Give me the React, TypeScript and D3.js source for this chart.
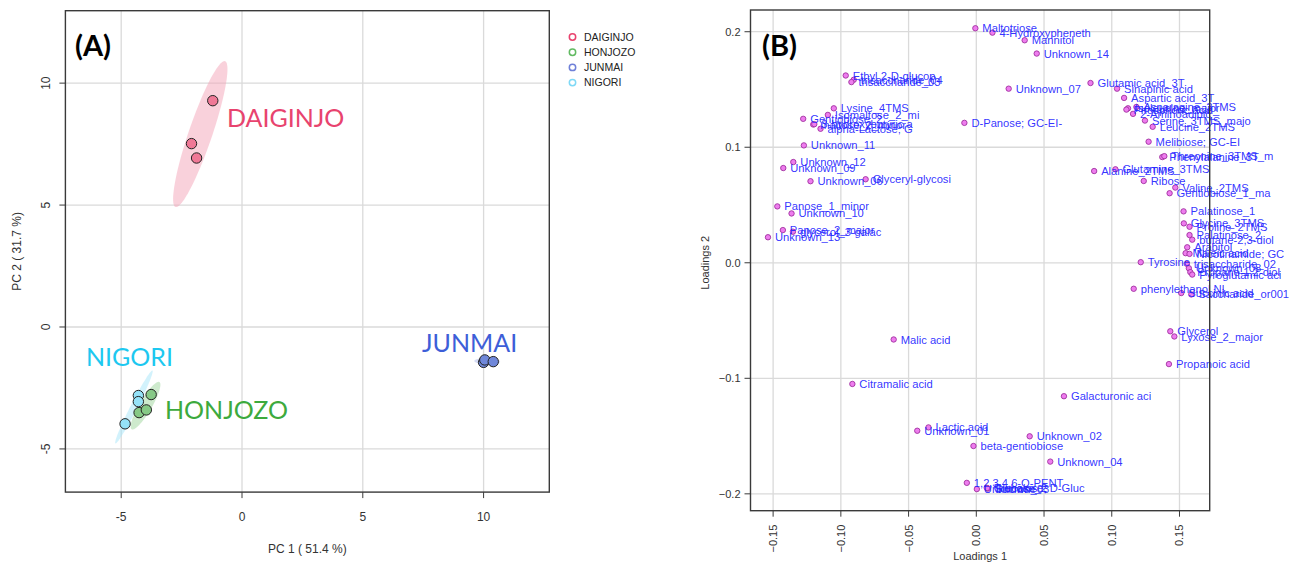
import React from 'react';
import * as d3 from 'd3';

// ---------- Panel A data (PCA scores) ----------
const groupNames = ['DAIGINJO', 'HONJOZO', 'JUNMAI', 'NIGORI'];
const scoreGroup = ['DAIGINJO', 'DAIGINJO', 'DAIGINJO', 'HONJOZO', 'HONJOZO', 'HONJOZO', 'JUNMAI', 'JUNMAI', 'JUNMAI', 'NIGORI', 'NIGORI', 'NIGORI'];
const pc1 = [-1.21, -2.09, -1.88, -3.76, -4.26, -3.96, 10.0, 10.05, 10.4, -4.29, -4.29, -4.84];
const pc2 = [9.28, 7.52, 6.93, -2.77, -3.51, -3.40, -1.45, -1.35, -1.42, -2.81, -3.06, -3.97];
const pcTicksX = [-5, 0, 5, 10];
const pcTicksY = [-5, 0, 5, 10];

// ---------- Panel B data (loadings) ----------
const loadingNames = [
  'Maltotriose', '4-Hydroxypheneth', 'Mannitol', 'Unknown_14', 'Ethyl 2-D-glucop', 'trisaccharide_04', 'trisaccharide_03',
  'Unknown_07', 'Glutamic acid_3T', 'Sinapinic acid', 'Aspartic acid_3T', 'Lysine_4TMS', 'Isomaltose_2_mi', 'Gentiobiose_2',
  'maltose_2_minor', '3-hydroxybutyric a', 'alpha-Lactose; G', 'D-Panose; GC-EI-', 'Asparagine_3TMS', 'Isoleucine_major', 'Phosphoric acid_',
  '2-Aminoadipic_', 'Serine_3TMS_majo', 'Leucine_2TMS', 'Melibiose; GC-EI', 'Unknown_11', 'Phenylalanine_3T', 'Threonine_3TMS_m',
  'Unknown_12', 'Unknown_09', 'Alanine_2TMS', 'Glutamine_3TMS', 'Unknown_06', 'Glyceryl-glycosi', 'Ribose',
  'Valine_2TMS', 'Gentiobiose_1_ma', 'Panose_1_minor', 'Unknown_10', 'Palatinose_1', 'Panose_2_major', 'glycerol_3-galac',
  'Unknown_13', 'Glycine_3TMS', 'Proline_2TMS', 'Palatinose_2', 'butane-2,3-diol', 'Arabitol', 'Maleic acid',
  'Nicotinamide; GC', 'Tyrosine', 'trisaccharide_02', 'Unknown_08', 'Propane-1,2-diol', 'Pyroglutamic aci', 'phenylethanol NI',
  'Succinic acid', 'Saccharide_or001', 'Glycerol', 'Lyxose_2_major', 'Propanoic acid', 'Malic acid', 'Citramalic acid',
  'Galacturonic aci', 'Unknown_01', 'Lactic acid', 'Unknown_02', 'beta-gentiobiose', 'Unknown_04', '1,2,3,4,6-O-PENT',
  'Unknown_03', 'Glucose_2', 'Sucrose', 'Trehalose; D-Gluc'
];
const loading1 = [
  -0.0007, 0.0119, 0.0357, 0.0446, -0.0964, -0.0905, -0.0922,
  0.0239, 0.0843, 0.1039, 0.1091, -0.1052, -0.1096, -0.1278,
  -0.1204, -0.1196, -0.1150, -0.0088, 0.1182, 0.1120, 0.1108,
  0.1157, 0.1245, 0.1302, 0.1272, -0.1273, 0.1373, 0.1388,
  -0.1351, -0.1425, 0.0870, 0.1027, -0.1224, -0.0817, 0.1236,
  0.1469, 0.1427, -0.1469, -0.1364, 0.1530, -0.1428, -0.1354,
  -0.1538, 0.1532, 0.1574, 0.1574, 0.1594, 0.1557, 0.1545,
  0.1574, 0.1214, 0.1554, 0.1569, 0.1580, 0.1594, 0.1162,
  0.1513, 0.1587, 0.1432, 0.1462, 0.1422, -0.0610, -0.0915,
  0.0647, -0.0436, -0.0353, 0.0394, -0.0021, 0.0546, -0.0070,
  0.0004, 0.0077, 0.0085, 0.0080
];
const loading2 = [
  0.2030, 0.1992, 0.1926, 0.1811, 0.1621, 0.1584, 0.1564,
  0.1507, 0.1556, 0.1507, 0.1427, 0.1337, 0.1280, 0.1246,
  0.1197, 0.1200, 0.1160, 0.1211, 0.1349, 0.1337, 0.1326,
  0.1289, 0.1231, 0.1177, 0.1048, 0.1016, 0.0915, 0.0923,
  0.0872, 0.0820, 0.0794, 0.0809, 0.0706, 0.0723, 0.0708,
  0.0651, 0.0602, 0.0488, 0.0427, 0.0445, 0.0283, 0.0269,
  0.0221, 0.0341, 0.0312, 0.0240, 0.0200, 0.0134, 0.0083,
  0.0077, 0.0005, -0.0009, -0.0047, -0.0081, -0.0102, -0.0225,
  -0.0262, -0.0274, -0.0593, -0.0638, -0.0877, -0.0664, -0.1049,
  -0.1155, -0.1454, -0.1425, -0.1502, -0.1586, -0.1721, -0.1905,
  -0.1959, -0.1948, -0.1955, -0.1950
];
const ldTicksX = [-0.15, -0.1, -0.05, 0, 0.05, 0.1, 0.15];
const ldTicksY = [-0.2, -0.1, 0, 0.1, 0.2];

// ---------- styles ----------
const legendColor: Record<string, string> = { DAIGINJO: '#E8436E', HONJOZO: '#62BA62', JUNMAI: '#6F80D8', NIGORI: '#7FD9F6' };
const pointFill: Record<string, string> = { DAIGINJO: '#EF7896', HONJOZO: '#86C986', JUNMAI: '#7088DA', NIGORI: '#95E2F8' };
const ellipseFill: Record<string, string> = { DAIGINJO: '#F4A3B7', HONJOZO: '#9ED59B', JUNMAI: '#A9B6EA', NIGORI: '#A6E6FA' };
const bigLabelColor: Record<string, string> = { DAIGINJO: '#E8436E', HONJOZO: '#3DAA3D', JUNMAI: '#3D5ED8', NIGORI: '#1DC8F0' };
const bigLabelPos: Record<string, [number, number]> = { DAIGINJO: [227, 127], HONJOZO: [165, 419], JUNMAI: [422, 352], NIGORI: [86, 366] };

const FONT = '"Liberation Sans", Arial, Helvetica, sans-serif';
const LABEL_FONT = 'Lato, "Open Sans", sans-serif';

function confEllipse(xs: number[], ys: number[]) {
  const n = xs.length;
  const mx = d3.mean(xs) as number;
  const my = d3.mean(ys) as number;
  let a = 0, b = 0, c = 0;
  for (let i = 0; i < n; i++) {
    const dx = xs[i] - mx, dy = ys[i] - my;
    a += dx * dx; b += dx * dy; c += dy * dy;
  }
  a /= n - 1; b /= n - 1; c /= n - 1;
  const tr = (a + c) / 2;
  const disc = Math.sqrt(((a - c) / 2) ** 2 + b * b);
  const l1 = tr + disc, l2 = Math.max(tr - disc, 0);
  const th = 0.5 * Math.atan2(2 * b, a - c);
  const s = Math.sqrt(5.991);
  const pts: [number, number][] = [];
  for (let k = 0; k <= 120; k++) {
    const t = (k / 120) * Math.PI * 2;
    const u = s * Math.sqrt(l1) * Math.cos(t);
    const v = s * Math.sqrt(l2) * Math.sin(t);
    pts.push([mx + u * Math.cos(th) - v * Math.sin(th), my + u * Math.sin(th) + v * Math.cos(th)]);
  }
  return pts;
}

export default function App() {
  // Panel A scales
  const ax = d3.scaleLinear().domain([-7.31, 12.72]).range([65.4, 549.3]);
  const ay = d3.scaleLinear().domain([-6.77, 12.97]).range([492.1, 10.7]);
  // Panel B scales
  const bx = d3.scaleLinear().domain([-0.1667, 0.1723]).range([750.5, 1209.7]);
  const by = d3.scaleLinear().domain([-0.2146, 0.2188]).range([510.7, 10]);

  const line = d3.line<[number, number]>().x((d) => ax(d[0])).y((d) => ay(d[1]));

  const ellipses = groupNames.map((g) => {
    const idx = scoreGroup.map((s, i) => (s === g ? i : -1)).filter((i) => i >= 0);
    return { g, path: line(confEllipse(idx.map((i) => pc1[i]), idx.map((i) => pc2[i]))) as string };
  });

  const aL = 65.4, aR = 549.3, aT = 10.7, aB = 492.1;
  const bL = 750.5, bR = 1209.7, bT = 10, bB = 510.7;

  return (
    <svg width={1297} height={563} style={{ position: 'absolute', left: 0, top: 0, background: '#fff' }} fontFamily={FONT}>
      <rect x={0} y={0} width={1297} height={563} fill="#fff" />
      {/* ---------------- Panel A ---------------- */}
      <g>
        {pcTicksX.map((t) => (
          <line key={'gx' + t} x1={ax(t)} x2={ax(t)} y1={aT} y2={aB} stroke="#DADADA" strokeWidth={1.3} />
        ))}
        {pcTicksY.map((t) => (
          <line key={'gy' + t} x1={aL} x2={aR} y1={ay(t)} y2={ay(t)} stroke="#DADADA" strokeWidth={1.3} />
        ))}
        {ellipses.map((e) => (
          <path key={e.g} d={e.path} fill={ellipseFill[e.g]} fillOpacity={0.5} stroke="none" />
        ))}
        {pc1.map((v, i) => (
          <circle key={'p' + i} cx={ax(v)} cy={ay(pc2[i])} r={5.2} fill={pointFill[scoreGroup[i]]} stroke="#222" strokeWidth={1} />
        ))}
        <rect x={aL} y={aT} width={aR - aL} height={aB - aT} fill="none" stroke="#3A3A3A" strokeWidth={1.4} />
        {pcTicksX.map((t) => (
          <g key={'tx' + t}>
            <line x1={ax(t)} x2={ax(t)} y1={aB} y2={aB + 6} stroke="#3A3A3A" strokeWidth={1} />
            <text x={ax(t)} y={521} fontSize={12} textAnchor="middle" fill="#333">{t}</text>
          </g>
        ))}
        {pcTicksY.map((t) => (
          <g key={'ty' + t}>
            <line x1={aL - 6} x2={aL} y1={ay(t)} y2={ay(t)} stroke="#3A3A3A" strokeWidth={1} />
            <text transform={`translate(50,${ay(t)}) rotate(-90)`} fontSize={12} textAnchor="middle" fill="#333">{t}</text>
          </g>
        ))}
        <text x={(aL + aR) / 2} y={553} fontSize={12} textAnchor="middle" fill="#333">PC 1 ( 51.4 %)</text>
        <text transform={`translate(20.5,${(aT + aB) / 2}) rotate(-90)`} fontSize={12} textAnchor="middle" fill="#333">PC 2 ( 31.7 %)</text>
        <text x={75} y={56} fontSize={29} fontWeight="bold" fontFamily={LABEL_FONT} fill="#000">(A)</text>
        {groupNames.map((g) => (
          <text key={'bl' + g} x={bigLabelPos[g][0]} y={bigLabelPos[g][1]} fontSize={25} fontFamily={LABEL_FONT} fill={bigLabelColor[g]}>{g}</text>
        ))}
        {groupNames.map((g, i) => (
          <g key={'lg' + g}>
            <circle cx={572.5} cy={37 + i * 15.2} r={3.2} fill="none" stroke={legendColor[g]} strokeWidth={1.5} />
            <text x={584} y={37 + i * 15.2 + 3.8} fontSize={10.5} fill="#222">{g}</text>
          </g>
        ))}
      </g>

      {/* ---------------- Panel B ---------------- */}
      <g>
        {ldTicksX.map((t) => (
          <line key={'bgx' + t} x1={bx(t)} x2={bx(t)} y1={bT} y2={bB} stroke="#DADADA" strokeWidth={1.3} />
        ))}
        {ldTicksY.map((t) => (
          <line key={'bgy' + t} x1={bL} x2={bR} y1={by(t)} y2={by(t)} stroke="#DADADA" strokeWidth={1.3} />
        ))}
        {loading1.map((v, i) => (
          <circle key={'lp' + i} cx={bx(v)} cy={by(loading2[i])} r={2.7} fill="#EE7DEE" stroke="#A0309F" strokeWidth={0.9} />
        ))}
        {loading1.map((v, i) => (
          <text key={'lt' + i} x={bx(v) + 7} y={by(loading2[i])} dy="0.36em" fontSize={11.2} fill="#2222FF" fillOpacity={0.92}>{loadingNames[i]}</text>
        ))}
        <rect x={bL} y={bT} width={bR - bL} height={bB - bT} fill="none" stroke="#3A3A3A" strokeWidth={1.4} />
        {ldTicksX.map((t) => (
          <g key={'btx' + t}>
            <line x1={bx(t)} x2={bx(t)} y1={bB} y2={bB + 6} stroke="#3A3A3A" strokeWidth={1} />
            <text transform={`translate(${bx(t) + 4},${bB + 14}) rotate(-90)`} fontSize={11} textAnchor="end" fill="#333">{d3.format('.2f')(t)}</text>
          </g>
        ))}
        {ldTicksY.map((t) => (
          <g key={'bty' + t}>
            <line x1={bL - 6} x2={bL} y1={by(t)} y2={by(t)} stroke="#3A3A3A" strokeWidth={1} />
            <text x={bL - 10} y={by(t)} dy="0.35em" fontSize={11} textAnchor="end" fill="#333">{d3.format('.1f')(t)}</text>
          </g>
        ))}
        <text x={(bL + bR) / 2} y={560} fontSize={11} textAnchor="middle" fill="#333">Loadings 1</text>
        <text transform={`translate(709,${by(0)}) rotate(-90)`} fontSize={11} textAnchor="middle" fill="#333">Loadings 2</text>
        <text x={762} y={56} fontSize={29} fontWeight="bold" fontFamily={LABEL_FONT} fill="#000">(B)</text>
      </g>
    </svg>
  );
}
